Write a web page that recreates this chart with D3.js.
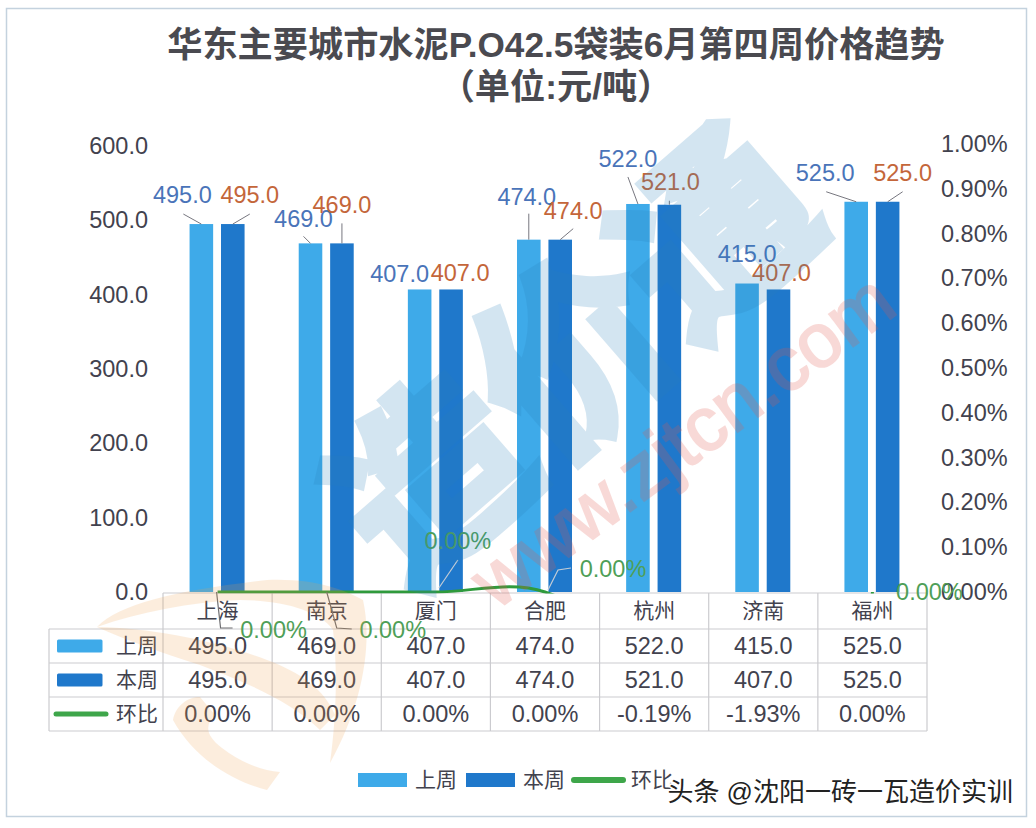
<!DOCTYPE html>
<html>
<head>
<meta charset="utf-8">
<script src="https://cdn.jsdelivr.net/npm/d3@7"></script>
<style>
  html, body { margin: 0; padding: 0; background: #fff; }
  svg { display: block; }
  text { font-family: "Liberation Sans", "Noto Sans CJK SC", sans-serif; }
</style>
</head>
<body>
<div id="chart"></div>
<script>
// chart values
const cities = ['上海', '南京', '厦门', '合肥', '杭州', '济南', '福州'];
const lastWeek = [495, 469, 407, 474, 522, 415, 525];
const thisWeek = [495, 469, 407, 474, 521, 407, 525];
const ratio = [0, 0, 0, 0, -0.19, -1.93, 0];
const leftTicks = [0, 100, 200, 300, 400, 500, 600];
const rightTicks = [0, 0.1, 0.2, 0.3, 0.4, 0.5, 0.6, 0.7, 0.8, 0.9, 1];
const seriesNames = ['上周', '本周', '环比'];
const titleLines = ['华东主要城市水泥P.O42.5袋装6月第四周价格趋势', '（单位:元/吨）'];

// label placement: [label dx, label dy, leader start dx, leader start dy], from the bar top
const lastLabelPos = [[-19, -29, -18, -10], [-7, -25, -7, -7], [-20, -16], [-2, -43, 0, -26], [-10, -45, -10, -27], [0, -30], [-31, -29, -30, -10]];
const thisLabelPos = [[17, -29, 17, -10], [0, -39, 0, -20], [9, -17], [13, -29, 13, -11], [1, -23, 0, -4], [3, -17], [15, -29, 15, -10]];
// the ratio labels: label offset + leader polyline from the point
const ratioLabelPos = [
  { at: [56, 38], leader: [[-1, 0], [3, 36], [15, 36]], color: '#6d6d70' },
  { at: [66, 38], leader: [[0, 0], [10, 36], [25, 37]], color: '#6d6d70' },
  { at: [22, -51], leader: [[3, -4], [22, -32]], color: '#c3ccd6' },
  { at: [68, -23], leader: [[3, -2], [13, -22], [26, -24]], color: '#c3ccd6' },
  null,
  null,
  { at: [57, 0], leader: [], color: '#6d6d70' }
];

const colors = { last: '#3eaae9', curr: '#1f78cb', line: '#3ea64a' };
const textColor = '#42424e';
const gridColor = '#cbcbcf';
const numSize = 23.5;

const width = 1036, height = 828;
const margins = { top: 146, bottom: 592, left: 163, right: 927 };
const rowEdges = [593, 629, 663, 697, 731];
const tableLeft = 49;

const svg = d3.select('#chart').append('svg')
  .attr('width', width)
  .attr('height', height);

// outer frame
svg.append('rect')
  .attr('x', 6.5).attr('y', 8.5)
  .attr('width', 1020).attr('height', 808)
  .attr('fill', '#fff')
  .attr('stroke', '#c4d2de')
  .attr('stroke-width', 1.5);

// scales
const x = d3.scaleBand().domain(cities).range([margins.left, margins.right]);
const sub = d3.scaleBand().domain(['last', 'curr']).range([-28, 27]).paddingInner(0.25);
const y = d3.scaleLinear().domain([0, 600]).range([margins.bottom, margins.top]);
const y2 = d3.scaleLinear().domain([0, 1]).range([margins.bottom, 144]);
const cx = d => x(d) + x.bandwidth() / 2;

// title
svg.append('g').selectAll('text')
  .data(titleLines)
  .join('text')
  .attr('x', 556)
  .attr('y', (d, i) => i ? 99 : 57)
  .attr('text-anchor', 'middle')
  .attr('font-size', 35.2)
  .attr('font-weight', 700)
  .attr('fill', '#4a4a50')
  .text(d => d);

// axes
const leftAxis = d3.axisLeft(y).tickValues(leftTicks).tickSize(0).tickPadding(15).tickFormat(d3.format('.1f'));
const rightAxis = d3.axisRight(y2).tickValues(rightTicks).tickSize(0).tickPadding(14).tickFormat(d => d.toFixed(2) + '%');

const gLeft = svg.append('g').attr('transform', `translate(${margins.left},0)`).call(leftAxis);
const gRight = svg.append('g').attr('transform', `translate(${margins.right},0)`).call(rightAxis);
[gLeft, gRight].forEach(g => {
  g.select('.domain').remove();
  g.selectAll('text')
    .attr('font-size', numSize)
    .attr('font-family', '"Liberation Sans", sans-serif')
    .attr('fill', textColor);
});

// bars
[['last', lastWeek], ['curr', thisWeek]].forEach(([key, values]) => {
  svg.append('g').selectAll('rect')
    .data(values)
    .join('rect')
    .attr('x', (d, i) => cx(cities[i]) + sub(key))
    .attr('y', d => y(d))
    .attr('width', sub.bandwidth())
    .attr('height', d => y(0) - y(d))
    .attr('fill', colors[key]);
});

// bar labels + leaders
function barLabels(values, key, pos, color) {
  const barX = i => cx(cities[i]) + sub(key) + sub.bandwidth() / 2;
  const g = svg.append('g');
  values.forEach((d, i) => {
    const p = pos[i];
    if (p.length > 2) {
      g.append('line')
        .attr('x1', barX(i) + p[2]).attr('y1', y(d) + p[3])
        .attr('x2', barX(i)).attr('y2', y(d))
        .attr('stroke', '#77777f')
        .attr('stroke-width', 1);
    }
    g.append('text')
      .attr('x', barX(i) + p[0])
      .attr('y', y(d) + p[1])
      .attr('dy', '0.35em')
      .attr('text-anchor', 'middle')
      .attr('font-size', numSize)
      .attr('fill', color)
      .text(d3.format('.1f')(d));
  });
}
barLabels(lastWeek, 'last', lastLabelPos, '#4a74b9');
barLabels(thisWeek, 'curr', thisLabelPos, '#c4663a');

// table grid
const grid = svg.append('g').attr('stroke', gridColor).attr('stroke-width', 1.2);
rowEdges.forEach((ry, i) => {
  grid.append('line')
    .attr('x1', i ? tableLeft : margins.left).attr('x2', margins.right)
    .attr('y1', ry).attr('y2', ry);
});
const colEdges = [...cities.map(c => x(c)), margins.right];
colEdges.forEach(cxe => {
  grid.append('line')
    .attr('x1', cxe).attr('x2', cxe)
    .attr('y1', rowEdges[0]).attr('y2', rowEdges[4]);
});
grid.append('line')
  .attr('x1', tableLeft).attr('x2', tableLeft)
  .attr('y1', rowEdges[1]).attr('y2', rowEdges[4]);

// table text
const rowMid = i => (rowEdges[i] + rowEdges[i + 1]) / 2;
const tableText = svg.append('g')
  .attr('text-anchor', 'middle')
  .attr('fill', textColor);
cities.forEach((c, i) => {
  const rows = [c, lastWeek[i].toFixed(1), thisWeek[i].toFixed(1), ratio[i].toFixed(2) + '%'];
  rows.forEach((t, r) => {
    tableText.append('text')
      .attr('x', cx(c))
      .attr('y', rowMid(r))
      .attr('dy', '0.35em')
      .attr('font-size', r ? numSize : 21)
      .text(t);
  });
});

// table row keys
const rowKey = svg.append('g');
seriesNames.forEach((name, i) => {
  const my = rowMid(i + 1);
  if (i < 2) {
    rowKey.append('rect')
      .attr('x', 57).attr('y', my - 6.5)
      .attr('width', 45.5).attr('height', 13)
      .attr('rx', 1.5)
      .attr('fill', i ? colors.curr : colors.last);
  } else {
    rowKey.append('line')
      .attr('x1', 56).attr('x2', 106)
      .attr('y1', my).attr('y2', my)
      .attr('stroke', colors.line)
      .attr('stroke-width', 5)
      .attr('stroke-linecap', 'round');
  }
  rowKey.append('text')
    .attr('x', 137).attr('y', my)
    .attr('dy', '0.35em')
    .attr('text-anchor', 'middle')
    .attr('font-size', 21)
    .attr('fill', textColor)
    .text(name);
});

// ratio line, anything under the zero line is cut off
svg.append('clipPath').attr('id', 'plotClip')
  .append('rect')
  .attr('x', margins.left).attr('y', 100)
  .attr('width', margins.right - margins.left)
  .attr('height', margins.bottom + 1.5 - 100);

const line = d3.line()
  .x((d, i) => cx(cities[i]))
  .y(d => y2(d))
  .curve(d3.curveCatmullRom.alpha(0.5));

svg.append('path')
  .datum(ratio)
  .attr('clip-path', 'url(#plotClip)')
  .attr('d', line)
  .attr('fill', 'none')
  .attr('stroke', '#2f9a3c')
  .attr('stroke-width', 3);

// ratio labels
const ratioG = svg.append('g');
ratio.forEach((d, i) => {
  const p = ratioLabelPos[i];
  if (!p) return;
  const px = cx(cities[i]), py = y2(d);
  if (p.leader.length) {
    ratioG.append('path')
      .attr('d', d3.line()(p.leader.map(o => [px + o[0], py + o[1]])))
      .attr('fill', 'none')
      .attr('stroke', p.color)
      .attr('stroke-width', 1.2);
  }
  ratioG.append('text')
    .attr('x', px + p.at[0])
    .attr('y', py + p.at[1])
    .attr('dy', '0.35em')
    .attr('text-anchor', 'middle')
    .attr('font-size', numSize)
    .attr('fill', '#4f9f58')
    .text(d.toFixed(2) + '%');
});

// bottom legend
const legendX = [358, 466, 572];
const legend = svg.append('g');
seriesNames.forEach((name, i) => {
  if (i < 2) {
    legend.append('rect')
      .attr('x', legendX[i]).attr('y', 773)
      .attr('width', 49).attr('height', 14)
      .attr('fill', i ? colors.curr : colors.last);
  } else {
    legend.append('line')
      .attr('x1', legendX[i] + 2).attr('x2', legendX[i] + 51)
      .attr('y1', 780).attr('y2', 780)
      .attr('stroke', colors.line)
      .attr('stroke-width', 6)
      .attr('stroke-linecap', 'round');
  }
  legend.append('text')
    .attr('x', legendX[i] + (i < 2 ? 78 : 80))
    .attr('y', 780)
    .attr('dy', '0.35em')
    .attr('text-anchor', 'middle')
    .attr('font-size', 21)
    .attr('fill', textColor)
    .text(name);
});

// watermarks sit over everything
const wm = svg.append('g').style('pointer-events', 'none');
wm.append('text')
  .attr('transform', 'translate(575,358) rotate(-41)')
  .attr('dy', '0.35em')
  .attr('text-anchor', 'middle')
  .attr('font-size', 188)
  .attr('font-weight', 700)
  .attr('font-family', '"Noto Sans CJK SC", sans-serif')
  .attr('fill', '#2a80bc')
  .attr('stroke', '#2a80bc')
  .attr('stroke-width', 9)
  .attr('opacity', 0.2)
  .text('造价通');
wm.append('text')
  .attr('transform', 'translate(682,440) rotate(-36.5)')
  .attr('dy', '0.35em')
  .attr('text-anchor', 'middle')
  .attr('font-size', 76)
  .attr('fill', '#e4584c')
  .attr('stroke', '#e4584c')
  .attr('stroke-width', 2)
  .attr('opacity', 0.22)
  .text('www.zjtcn.com');

const swoosh = wm.append('g').attr('fill', '#f0a04a').attr('opacity', 0.18);
swoosh.append('path').attr('d', 'M97,627 C120,603 180,590 267,580 C315,578 345,590 363,600 C372,640 365,700 330,763 C336,720 338,670 333,630 C320,610 280,600 240,600 C190,602 140,612 97,627 Z');
swoosh.append('path').attr('d', 'M97,627 C150,628 215,640 267,660 C300,672 325,690 335,715 L320,730 C290,700 240,680 200,665 C160,652 125,640 97,627 Z');
swoosh.append('path').attr('d', 'M173,720 C176,705 188,697 200,697 L215,715 C205,725 205,735 222,748 C240,762 260,770 280,772 L267,790 C235,782 195,760 173,720 Z');

// site signature
svg.append('text')
  .attr('x', 1013).attr('y', 792)
  .attr('dy', '0.35em')
  .attr('text-anchor', 'end')
  .attr('font-size', 26)
  .attr('fill', '#222')
  .attr('stroke', '#fff')
  .attr('stroke-width', 3)
  .attr('paint-order', 'stroke')
  .text('头条 @沈阳一砖一瓦造价实训');
</script>
</body>
</html>
